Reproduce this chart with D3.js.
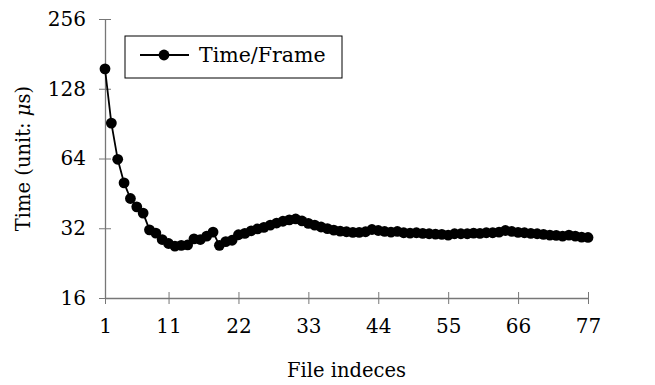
<!DOCTYPE html>
<html>
<head>
<meta charset="utf-8">
<script src="https://cdn.jsdelivr.net/npm/d3@7/dist/d3.min.js"></script>
<style>
  html, body { margin: 0; padding: 0; background: #fff; }
  svg { display: block; }
  text { font-family: "DejaVu Serif", serif; fill: #000; }
</style>
</head>
<body>
<svg id="chart" width="655" height="385"></svg>
<script>
// ---- data ----
const fileIndices = d3.range(1, 78);
const timePerFrame = [
  156, 91, 63.5, 50.2, 43, 39.6, 37.2, 31.5, 30.5, 28.6,
  27.5, 26.8, 27.0, 27.1, 28.8, 28.6, 29.6, 30.8, 27.0, 28.0,
  28.4, 30.0, 30.4, 31.2, 31.8, 32.3, 33.0, 33.7, 34.3, 34.8,
  35.1, 34.4, 33.6, 33.0, 32.4, 31.9, 31.4, 31.1, 30.9, 30.7,
  30.7, 30.9, 31.6, 31.3, 31.0, 30.8, 31.0, 30.6, 30.5, 30.6,
  30.4, 30.3, 30.2, 30.1, 29.9, 30.3, 30.3, 30.3, 30.5, 30.4,
  30.6, 30.6, 30.8, 31.3, 31.0, 30.7, 30.6, 30.4, 30.3, 30.1,
  29.9, 29.8, 29.6, 29.9, 29.6, 29.3, 29.2
];
const xTicks = [1, 11, 22, 33, 44, 55, 66, 77];
const yTicks = [16, 32, 64, 128, 256];
const seriesName = "Time/Frame";
const xTitle = "File indeces";

// ---- layout ----
(function () {
const svg = d3.select("#chart");
const mLeft = 105, mRight = 588, mTop = 19, mBottom = 298;
const axisColor = "#777";

const x = d3.scaleLinear().domain([1, 77]).range([mLeft, mRight]);
const y = d3.scaleLog().base(2).domain([16, 256]).range([mBottom, mTop]);

// axes
const xAxis = d3.axisBottom(x).tickValues(xTicks).tickSizeInner(6).tickSizeOuter(0).tickPadding(15);
const yAxis = d3.axisLeft(y).tickValues(yTicks).tickFormat(d3.format("d")).tickSizeInner(6).tickSizeOuter(0).tickPadding(13);

const gx = svg.append("g").attr("transform", `translate(0,${mBottom})`).call(xAxis);
const gy = svg.append("g").attr("transform", `translate(${mLeft},0)`).call(yAxis);

[gx, gy].forEach(g => {
  g.select(".domain").attr("stroke", axisColor).attr("stroke-width", 1.3);
  g.selectAll(".tick line").attr("stroke", axisColor).attr("stroke-width", 1);
  g.selectAll(".tick text").attr("font-family", "DejaVu Serif").attr("font-size", 20).attr("fill", "#000");
});
gx.selectAll(".tick line").attr("y1", -6).attr("y2", 6);
gy.selectAll(".tick line").attr("x1", -6).attr("x2", 6);
gx.selectAll(".tick text").attr("dy", "0.71em");

// axis titles
svg.append("text")
  .attr("x", (mLeft + mRight) / 2).attr("y", 377)
  .attr("text-anchor", "middle").attr("font-size", 19.5)
  .text(xTitle);

const yl = svg.append("text")
  .attr("transform", `translate(30,${(mTop + mBottom) / 2}) rotate(-90)`)
  .attr("text-anchor", "middle").attr("font-size", 19.5);
yl.append("tspan").text("Time (unit: ");
yl.append("tspan").attr("font-style", "italic").text("μ");
yl.append("tspan").text("s)");

// series
const data = fileIndices.map((d, i) => ({ x: d, y: timePerFrame[i] }));
const line = d3.line().x(d => x(d.x)).y(d => y(d.y));
svg.append("path").datum(data)
  .attr("d", line).attr("fill", "none")
  .attr("stroke", "#000").attr("stroke-width", 1.8);
svg.append("g").selectAll("circle").data(data).join("circle")
  .attr("cx", d => x(d.x)).attr("cy", d => y(d.y)).attr("r", 5.4)
  .attr("fill", "#000");

// legend
const lg = svg.append("g");
lg.append("rect").attr("x", 125).attr("y", 36).attr("width", 217).attr("height", 42)
  .attr("fill", "#fff").attr("stroke", "#000").attr("stroke-width", 1);
lg.append("line").attr("x1", 140).attr("x2", 189).attr("y1", 55).attr("y2", 55)
  .attr("stroke", "#000").attr("stroke-width", 1.8);
lg.append("circle").attr("cx", 164).attr("cy", 55).attr("r", 5.4).attr("fill", "#000");
lg.append("text").attr("x", 199).attr("y", 55).attr("dy", "0.35em")
  .attr("font-size", 20.5).text(seriesName);
})();
</script>
</body>
</html>
